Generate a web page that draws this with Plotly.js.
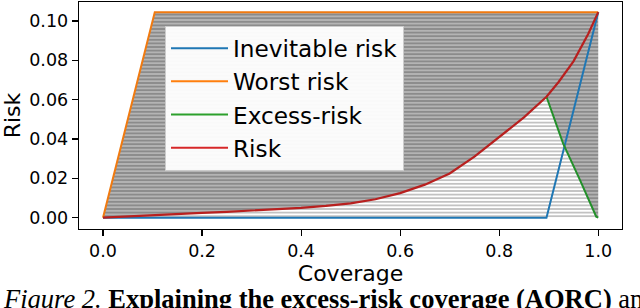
<!DOCTYPE html>
<html>
<head>
<meta charset="utf-8">
<script src="https://cdn.plot.ly/plotly-3.0.1.min.js"></script>
<style>
html,body{margin:0;padding:0;background:#fff;overflow:hidden;}
#chart{width:640px;height:308px;}
</style>
</head>
<body>
<div id="chart"></div>
<script>
// ---- data ----
const riskCoverage = [0, 0.05, 0.1, 0.15, 0.2, 0.25, 0.3, 0.35, 0.4, 0.45, 0.5, 0.55, 0.6, 0.65, 0.7, 0.75, 0.8, 0.85, 0.8955, 0.92, 0.95, 0.963, 0.98, 1.0];
const riskValues   = [0, 0.0007, 0.0013, 0.0019, 0.0025, 0.003, 0.0036, 0.0043, 0.005, 0.006, 0.0073, 0.0094, 0.0125, 0.0168, 0.0225, 0.031, 0.041, 0.051, 0.0615, 0.069, 0.0795, 0.0853, 0.0935, 0.1045];

const worstCoverage = [0, 0.1045, 1.0];
const worstValues   = [0, 0.1045, 0.1045];

const inevitableCoverage = [0, 0.8955, 1.0];
const inevitableValues   = [0, 0, 0.1045];

const excessCoverage = [0.8955, 0.929, 0.963, 0.996, 1.0];
const excessValues   = [0.0615, 0.0378, 0.0192, 0.0005, 0];

const seriesNames = ['Inevitable risk', 'Worst risk', 'Excess-risk', 'Risk'];
const seriesColors = ['#1f77b4', '#ff7f0e', '#2ca02c', '#d62728'];

const xTicks = [0, 0.2, 0.4, 0.6, 0.8, 1.0];
const xTickText = ['0.0', '0.2', '0.4', '0.6', '0.8', '1.0'];
const yTicks = [0, 0.02, 0.04, 0.06, 0.08, 0.10];
const yTickText = ['0.00', '0.02', '0.04', '0.06', '0.08', '0.10'];

const captionText = '<i>Figure 2.</i> <b>Explaining the excess-risk coverage (AORC)</b> and t';

// boundary of the excess-risk area: risk until the kink, then the excess-risk curve
const boundX = [], boundY = [];
for (let i = 0; i < riskCoverage.length; i++) {
  if (riskCoverage[i] < excessCoverage[0]) { boundX.push(riskCoverage[i]); boundY.push(riskValues[i]); }
}
for (let i = 0; i < excessCoverage.length; i++) { boundX.push(excessCoverage[i]); boundY.push(excessValues[i]); }

const font = 'DejaVu Sans, Verdana, sans-serif';

const traces = [
  { x: boundX, y: boundY, type: 'scatter', mode: 'lines', line: {width: 0}, fill: 'tozeroy',
    fillcolor: '#ffffff',
    fillpattern: {shape: '-', bgcolor: '#ffffff', fgcolor: '#a8a8a8', size: 3.6, solidity: 0.35},
    showlegend: false, hoverinfo: 'skip' },
  { x: worstCoverage, y: worstValues, type: 'scatter', mode: 'lines', line: {width: 0}, fill: 'tonexty',
    fillcolor: '#b4b4b4',
    fillpattern: {shape: '-', bgcolor: '#b4b4b4', fgcolor: '#7a7a7a', size: 3.6, solidity: 0.35},
    showlegend: false, hoverinfo: 'skip' },
  { x: inevitableCoverage, y: inevitableValues, type: 'scatter', mode: 'lines',
    line: {color: '#1f77b4', width: 2}, showlegend: false },
  { x: worstCoverage, y: worstValues, type: 'scatter', mode: 'lines',
    line: {color: '#f07a10', width: 2}, showlegend: false },
  { x: excessCoverage, y: excessValues, type: 'scatter', mode: 'lines',
    line: {color: '#23902a', width: 2}, showlegend: false },
  { x: riskCoverage, y: riskValues, type: 'scatter', mode: 'lines',
    line: {color: '#b8201f', width: 2.2}, showlegend: false }
];
// legend entries
for (let i = 0; i < seriesNames.length; i++) {
  traces.push({ x: [null], y: [null], type: 'scatter', mode: 'lines', name: seriesNames[i],
    legendgroup: 'g' + i, line: {color: seriesColors[i], width: 2} });
}

const layout = {
  width: 640, height: 308,
  margin: {l: 79, r: 18, t: 2, b: 79},
  paper_bgcolor: '#ffffff', plot_bgcolor: '#ffffff',
  font: {family: font, color: '#000', size: 17.5},
  showlegend: true,
  legend: {x: 0.1584, y: 0.896, xanchor: 'left', yanchor: 'top',
    bgcolor: 'rgba(255,255,255,0.95)', bordercolor: '#cccccc', borderwidth: 1,
    font: {family: font, size: 23.2, color: '#000'},
    traceorder: 'grouped', tracegroupgap: 0, itemwidth: 57},
  xaxis: {range: [-0.0485, 1.048], tickvals: xTicks, ticktext: xTickText,
    ticks: 'outside', ticklen: 6, tickwidth: 1.2, tickcolor: '#000',
    showline: true, linecolor: '#000', linewidth: 1.3, mirror: true,
    showgrid: false, zeroline: false,
    title: {text: 'Coverage', font: {family: font, size: 22, color: '#000'}, standoff: 3}},
  yaxis: {range: [-0.00574, 0.10966], tickvals: yTicks, ticktext: yTickText,
    ticks: 'outside', ticklen: 6, tickwidth: 1.2, tickcolor: '#000',
    showline: true, linecolor: '#000', linewidth: 1.3, mirror: true,
    showgrid: false, zeroline: false,
    title: {text: 'Risk', font: {family: font, size: 22, color: '#000'}, standoff: 6}},
  annotations: [{
    xref: 'paper', yref: 'paper', x: -0.1418, y: -0.2378, xanchor: 'left', yanchor: 'top',
    showarrow: false, align: 'left', borderpad: 0,
    text: captionText,
    font: {family: 'Liberation Serif, Times New Roman, serif', size: 26.5, color: '#000'}
  }]
};

Plotly.newPlot('chart', traces, layout, {staticPlot: true, displayModeBar: false});
</script>
</body>
</html>
